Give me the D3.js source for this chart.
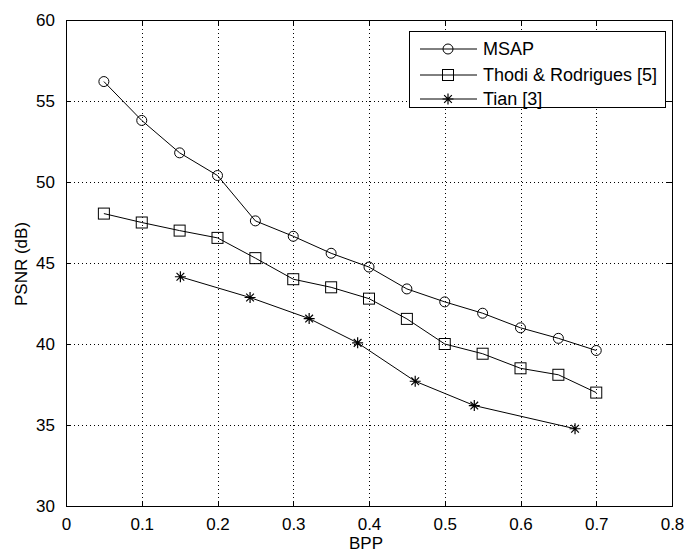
<!DOCTYPE html>
<html>
<head>
<meta charset="utf-8">
<script src="https://cdn.jsdelivr.net/npm/d3@7"></script>
<style>
  body { margin: 0; background: #fff; }
  text { font-family: "Liberation Sans", Arial, sans-serif; fill: #000; }
</style>
</head>
<body>
<div id="chart"></div>
<script>
// chart data
const bpp = [0.05, 0.1, 0.15, 0.2, 0.25, 0.3, 0.35, 0.4, 0.45, 0.5, 0.55, 0.6, 0.65, 0.7];
const msap = [56.2, 53.8, 51.8, 50.4, 47.6, 46.65, 45.6, 44.75, 43.4, 42.6, 41.9, 41.0, 40.35, 39.6];
const thodi = [48.05, 47.5, 47.0, 46.55, 45.3, 44.0, 43.5, 42.8, 41.55, 40.0, 39.4, 38.5, 38.1, 37.0];
const tianBpp = [0.151, 0.243, 0.321, 0.385, 0.461, 0.539, 0.672];
const tian = [44.15, 42.87, 41.57, 40.07, 37.7, 36.2, 34.77];
const xTicks = [0, 0.1, 0.2, 0.3, 0.4, 0.5, 0.6, 0.7, 0.8];
const yTicks = [30, 35, 40, 45, 50, 55, 60];
const seriesNames = ["MSAP", "Thodi & Rodrigues [5]", "Tian [3]"];

const width = 684;
const height = 554;
const margin = { top: 20, right: 12, bottom: 48, left: 66 };

const svg = d3.select("#chart")
    .append("svg")
    .attr("width", width)
    .attr("height", height);

const x = d3.scaleLinear().domain([0, 0.8]).range([margin.left, width - margin.right]);
const y = d3.scaleLinear().domain([30, 60]).range([height - margin.bottom, margin.top]);

const plotW = width - margin.left - margin.right;
const plotH = height - margin.top - margin.bottom;

// dotted grid
svg.append("g")
    .attr("transform", `translate(0,${height - margin.bottom})`)
    .call(d3.axisBottom(x).tickValues(xTicks.slice(1, -1)).tickSize(-plotH).tickFormat(""))
    .call(g => g.select(".domain").remove())
    .call(g => g.selectAll("line").attr("stroke", "#000").attr("stroke-dasharray", "1,3"));

svg.append("g")
    .attr("transform", `translate(${margin.left},0)`)
    .call(d3.axisLeft(y).tickValues(yTicks.slice(1, -1)).tickSize(-plotW).tickFormat(""))
    .call(g => g.select(".domain").remove())
    .call(g => g.selectAll("line").attr("stroke", "#000").attr("stroke-dasharray", "1,3"));

// axes, ticks pointing inward on all four sides
const fmt = d => d === 0 ? "0" : String(d);

svg.append("g")
    .attr("transform", `translate(0,${height - margin.bottom})`)
    .call(d3.axisBottom(x).tickValues(xTicks).tickSizeInner(-5).tickSizeOuter(0).tickPadding(12).tickFormat(fmt))
    .call(g => g.selectAll("text").attr("font-size", 17));

svg.append("g")
    .attr("transform", `translate(${margin.left},0)`)
    .call(d3.axisLeft(y).tickValues(yTicks).tickSizeInner(-5).tickSizeOuter(0).tickPadding(11))
    .call(g => g.selectAll("text").attr("font-size", 17));

svg.append("g")
    .attr("transform", `translate(0,${margin.top})`)
    .call(d3.axisTop(x).tickValues(xTicks).tickSizeInner(-5).tickSizeOuter(0).tickFormat(""));

svg.append("g")
    .attr("transform", `translate(${width - margin.right},0)`)
    .call(d3.axisRight(y).tickValues(yTicks).tickSizeInner(-5).tickSizeOuter(0).tickFormat(""));

svg.selectAll(".domain, .tick line").attr("shape-rendering", "crispEdges");

// axis titles
svg.append("text")
    .attr("x", 366)
    .attr("y", 549)
    .attr("text-anchor", "middle")
    .attr("font-size", 17)
    .text("BPP");

svg.append("text")
    .attr("transform", `translate(27,264) rotate(-90)`)
    .attr("text-anchor", "middle")
    .attr("font-size", 17)
    .text("PSNR (dB)");

// lines
const line = d3.line().x(d => x(d[0])).y(d => y(d[1]));
const msapPts = bpp.map((b, i) => [b, msap[i]]);
const thodiPts = bpp.map((b, i) => [b, thodi[i]]);
const tianPts = tianBpp.map((b, i) => [b, tian[i]]);

[msapPts, thodiPts, tianPts].forEach(pts => {
    svg.append("path")
        .datum(pts)
        .attr("fill", "none")
        .attr("stroke", "#000")
        .attr("stroke-width", 1)
        .attr("d", line);
});

// markers
function circleMark(g, cx, cy) {
    g.append("circle").attr("cx", cx).attr("cy", cy).attr("r", 5)
        .attr("fill", "none").attr("stroke", "#000");
}
function squareMark(g, cx, cy) {
    g.append("rect").attr("x", cx - 5.5).attr("y", cy - 5.5).attr("width", 11).attr("height", 11)
        .attr("fill", "none").attr("stroke", "#000");
}
function starMark(g, cx, cy) {
    const r = 5.5;
    g.append("path")
        .attr("d", `M${cx - r},${cy}H${cx + r}M${cx},${cy - r}V${cy + r}` +
            `M${cx - r * 0.7},${cy - r * 0.7}L${cx + r * 0.7},${cy + r * 0.7}` +
            `M${cx - r * 0.7},${cy + r * 0.7}L${cx + r * 0.7},${cy - r * 0.7}`)
        .attr("stroke", "#000").attr("stroke-width", 1.2);
}

const marks = svg.append("g");
msapPts.forEach(d => circleMark(marks, x(d[0]), y(d[1])));
thodiPts.forEach(d => squareMark(marks, x(d[0]), y(d[1])));
tianPts.forEach(d => starMark(marks, x(d[0]), y(d[1])));

// legend
const legend = svg.append("g");
legend.append("rect")
    .attr("x", 409.5).attr("y", 31.5).attr("width", 256).attr("height", 76)
    .attr("fill", "#fff").attr("stroke", "#000");

const markFns = [circleMark, squareMark, starMark];
const rowY = [49, 75, 99];
seriesNames.forEach((name, i) => {
    legend.append("line")
        .attr("x1", 420).attr("x2", 477).attr("y1", rowY[i]).attr("y2", rowY[i])
        .attr("stroke", "#000");
    markFns[i](legend, 448, rowY[i]);
    legend.append("text")
        .attr("x", 483).attr("y", rowY[i])
        .attr("dy", "0.36em")
        .attr("font-size", 18)
        .text(name);
});
</script>
</body>
</html>
